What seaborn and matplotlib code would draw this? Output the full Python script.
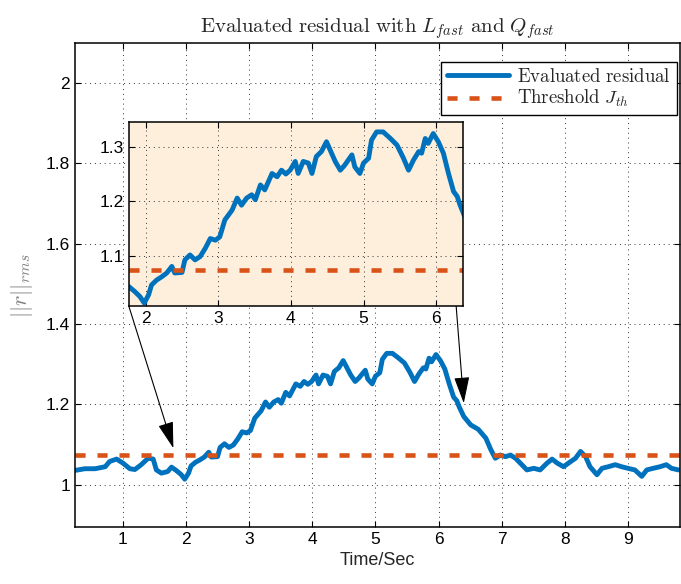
import numpy as np
import pandas as pd
import matplotlib
matplotlib.use("Agg")
import matplotlib.pyplot as plt
import seaborn as sns

# ---- data ----
time_s = [0.25, 0.40, 0.56, 0.72, 0.79, 0.90, 1.00, 1.11, 1.19, 1.29, 1.40, 1.48, 1.53, 1.61, 1.71,
          1.77, 1.85, 1.92, 1.98, 2.04, 2.08, 2.15, 2.22, 2.29, 2.36, 2.40, 2.50, 2.54, 2.61, 2.68,
          2.75, 2.82, 2.89, 2.96, 3.02, 3.09, 3.19, 3.26, 3.32, 3.39, 3.46, 3.51, 3.58, 3.64, 3.74,
          3.81, 3.87, 3.93, 3.99, 4.06, 4.10, 4.17, 4.24, 4.29, 4.35, 4.42, 4.49, 4.54, 4.61, 4.68,
          4.74, 4.84, 4.88, 4.95, 5.00, 5.07, 5.11, 5.18, 5.27, 5.37, 5.46, 5.55, 5.62, 5.69, 5.76,
          5.80, 5.85, 5.89, 5.96, 6.03, 6.10, 6.17, 6.24, 6.29, 6.33, 6.40, 6.51, 6.63, 6.75, 6.83,
          6.90, 6.98, 7.06, 7.14, 7.22, 7.32, 7.40, 7.51, 7.61, 7.72, 7.80, 7.88, 7.98, 8.06, 8.17,
          8.25, 8.33, 8.40, 8.51, 8.59, 8.69, 8.80, 8.90, 9.00, 9.11, 9.22, 9.30, 9.40, 9.51, 9.61,
          9.69, 9.80]
residual = [1.036, 1.040, 1.040, 1.045, 1.058, 1.064, 1.054, 1.040, 1.038, 1.050, 1.066, 1.064, 1.037, 1.029, 1.033,
            1.044, 1.035, 1.026, 1.014, 1.029, 1.047, 1.056, 1.062, 1.069, 1.081, 1.069, 1.070, 1.093, 1.102, 1.093,
            1.099, 1.114, 1.132, 1.129, 1.135, 1.166, 1.184, 1.206, 1.193, 1.206, 1.212, 1.203, 1.230, 1.221, 1.251,
            1.245, 1.257, 1.250, 1.257, 1.273, 1.251, 1.273, 1.270, 1.251, 1.282, 1.291, 1.309, 1.294, 1.273, 1.257,
            1.266, 1.285, 1.263, 1.251, 1.270, 1.279, 1.312, 1.327, 1.327, 1.315, 1.303, 1.279, 1.257, 1.276, 1.291,
            1.288, 1.315, 1.306, 1.324, 1.309, 1.288, 1.251, 1.218, 1.209, 1.193, 1.170, 1.149, 1.138, 1.116, 1.087,
            1.066, 1.074, 1.070, 1.074, 1.066, 1.050, 1.037, 1.041, 1.037, 1.054, 1.064, 1.054, 1.045, 1.054, 1.066,
            1.083, 1.070, 1.045, 1.025, 1.041, 1.045, 1.050, 1.045, 1.041, 1.037, 1.021, 1.037, 1.041, 1.045, 1.050,
            1.041, 1.037]
threshold = 1.075
main_xticks = [1, 2, 3, 4, 5, 6, 7, 8, 9]
main_yticks = [1.0, 1.2, 1.4, 1.6, 1.8, 2.0]
inset_xticks = [2, 3, 4, 5, 6]
inset_yticks = [1.1, 1.2, 1.3]

df = pd.DataFrame({"t": time_s, "r": residual})

BLUE = "#0072BD"
ORANGE = "#D95319"

sns.set_style("ticks")
plt.rcParams["font.family"] = ["Liberation Sans", "DejaVu Sans"]
plt.rcParams["mathtext.fontset"] = "cm"

fig = plt.figure(figsize=(6.81, 5.84), dpi=100)
ax = fig.add_axes([0.110, 0.0976, 0.888, 0.828])


def style_axes(a, fs):
    a.tick_params(direction="in", top=True, right=True, length=4, width=0.8,
                  labelsize=fs, colors="black")
    a.grid(True, linestyle=(0, (1, 4)), color="#333333", linewidth=0.7)
    for s in a.spines.values():
        s.set_visible(True)
        s.set_linewidth(1.1)
        s.set_color("black")


sns.lineplot(data=df, x="t", y="r", ax=ax, color=BLUE, lw=3.5,
             label=r"$\mathrm{Evaluated\ residual}$", sort=False)
ax.axhline(threshold, color=ORANGE, lw=3.3, dashes=(2.2, 2.6),
           label=r"$\mathrm{Threshold\ }J_{th}$")
ax.set_xlim(0.24, 9.82)
ax.set_ylim(0.895, 2.098)
ax.set_xticks(main_xticks)
ax.set_yticks(main_yticks)
ax.set_yticklabels(["1", "1.2", "1.4", "1.6", "1.8", "2"])
style_axes(ax, 12.5)
ax.set_xlabel("Time/Sec", fontsize=13, labelpad=4)
ax.set_ylabel(r"$||r||_{rms}$", fontsize=16, color="#808080", labelpad=8)
ax.set_title(r"$\mathrm{Evaluated\ residual\ with\ }L_{fast}\mathrm{\ and\ }Q_{fast}$",
             fontsize=15, pad=8)
leg = ax.legend(loc="upper right", bbox_to_anchor=(0.995, 0.961), borderaxespad=0,
                fontsize=13.5, frameon=True, fancybox=False, framealpha=1,
                edgecolor="black", handlelength=3.3, borderpad=0.3, labelspacing=0.12,
                handletextpad=0.45)
leg.get_frame().set_linewidth(1.0)

# arrows from the inset to the main curve
arrow_kw = dict(arrowstyle="-|>,head_width=0.32,head_length=1.1", color="black",
                lw=0.8, mutation_scale=15, shrinkA=0, shrinkB=0)
ax.annotate("", xy=(1.80, 1.091), xytext=(1.095, 1.444), arrowprops=arrow_kw, zorder=5)
ax.annotate("", xy=(6.40, 1.203), xytext=(6.28, 1.444), arrowprops=arrow_kw, zorder=5)

# inset
axin = fig.add_axes([0.1894, 0.476, 0.4905, 0.315])
axin.set_facecolor("#fdefdb")
sns.lineplot(data=df, x="t", y="r", ax=axin, color=BLUE, lw=3.5, sort=False, legend=False)
axin.axhline(threshold, color=ORANGE, lw=3.3, dashes=(2.2, 2.6))
axin.set_xlim(1.77, 6.37)
axin.set_ylim(1.0086, 1.345)
axin.set_xticks(inset_xticks)
axin.set_yticks(inset_yticks)
axin.set_xlabel("")
axin.set_ylabel("")
style_axes(axin, 12.5)

fig.savefig("out.png", dpi=100)
